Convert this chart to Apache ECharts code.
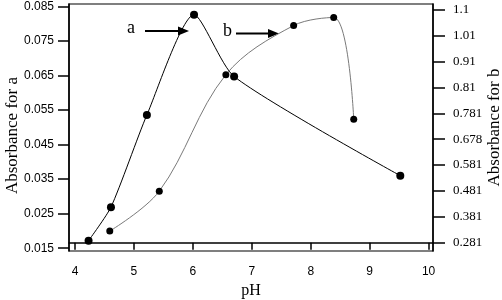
<!DOCTYPE html>
<html>
<head>
<meta charset="utf-8">
<script src="https://cdn.jsdelivr.net/npm/echarts@6/dist/echarts.min.js"></script>
<style>html,body{margin:0;padding:0;background:#fff;}#c{width:502px;height:300px;}</style>
</head>
<body>
<div id="c"></div>
<script>
// Data
const pH_a = [4.23, 4.61, 5.22, 6.02, 6.70, 9.52];
const abs_a = [0.0172, 0.0269, 0.0536, 0.0826, 0.0647, 0.0360];
const pH_b = [4.59, 5.43, 6.56, 7.71, 8.39, 8.73];
const abs_b = [0.326, 0.480, 0.859, 1.045, 1.073, 0.757];
const xTicks = [4, 5, 6, 7, 8, 9, 10];
const leftTicks = [0.015, 0.025, 0.035, 0.045, 0.055, 0.065, 0.075, 0.085];
const rightTicks = [0.281, 0.381, 0.481, 0.581, 0.678, 0.781, 0.81, 0.91, 1.01, 1.1];

// right axis labels are evenly spaced: map absorbance to tick-slot position
function slotOf(v) {
  for (let i = 0; i < rightTicks.length - 1; i++) {
    const a = rightTicks[i], b = rightTicks[i + 1];
    if (v <= b || i === rightTicks.length - 2) return i + (v - a) / (b - a);
  }
}
const rightSlots = rightTicks.map((_, i) => i);

const serif = 'Liberation Serif';
const sans = 'Liberation Sans';
const chart = echarts.init(document.getElementById('c'), null, {renderer: 'canvas'});
chart.setOption({
  animation: false,
  backgroundColor: '#fff',
  grid: {left: 69, right: 69, top: 4, bottom: 49, show: true, borderColor: '#000', borderWidth: 1.2,
    containLabel: false, outerBoundsMode: 'none'},
  xAxis: {
    type: 'value', min: 3.898, max: 10.075,
    name: 'pH', nameLocation: 'middle', nameGap: 32, nameMoveOverlap: false,
    nameTextStyle: {fontFamily: serif, fontSize: 16, color: '#000'},
    axisLine: {lineStyle: {color: '#000', width: 1.5}},
    axisTick: {customValues: xTicks, length: 7, lineStyle: {color: '#000', width: 1.5}},
    axisLabel: {customValues: xTicks, fontFamily: sans, fontSize: 12, color: '#000', margin: 15},
    splitLine: {show: false}
  },
  yAxis: [{
    type: 'value', min: 0.0142, max: 0.0857, position: 'left',
    name: 'Absorbance for a', nameLocation: 'middle', nameGap: 48, nameRotate: 90, nameMoveOverlap: false,
    nameTextStyle: {fontFamily: serif, fontSize: 17, color: '#000', padding: [0, 16, 0, 0]},
    axisLine: {show: true, lineStyle: {color: '#000', width: 1.5}},
    axisTick: {show: true, customValues: leftTicks, length: 11, lineStyle: {color: '#000', width: 1.5}},
    axisLabel: {customValues: leftTicks, fontFamily: sans, fontSize: 12, color: '#000', margin: 15,
      formatter: v => v.toFixed(3)},
    splitLine: {show: false}
  }, {
    type: 'value', min: -0.32, max: 9.22, position: 'right',
    name: 'Absorbance for b', nameLocation: 'middle', nameGap: 53, nameRotate: 90, nameMoveOverlap: false,
    nameTextStyle: {fontFamily: serif, fontSize: 17, color: '#000'},
    axisLine: {show: true, lineStyle: {color: '#000', width: 1.5}},
    axisTick: {show: true, customValues: rightSlots, length: 12, lineStyle: {color: '#000', width: 1.5}},
    axisLabel: {customValues: rightSlots, fontFamily: serif, fontSize: 13, color: '#000', margin: 20,
      formatter: v => String(rightTicks[Math.round(v)])},
    splitLine: {show: false}
  }],
  series: [{
    name: 'a', type: 'line', yAxisIndex: 0, smooth: 0.22,
    data: pH_a.map((x, i) => [x, abs_a[i]]),
    symbol: 'circle', symbolSize: 8,
    itemStyle: {color: '#000'},
    lineStyle: {color: '#000', width: 1}
  }, {
    name: 'b', type: 'line', yAxisIndex: 1, smooth: 0.35,
    data: pH_b.map((x, i) => [x, slotOf(abs_b[i])]),
    symbol: 'circle', symbolSize: 7,
    itemStyle: {color: '#000'},
    lineStyle: {color: '#7a7a7a', width: 1}
  }],
  graphic: [
    {type: 'text', left: 127, top: 19, style: {text: 'a', font: '18px "Liberation Serif"', fill: '#000'}},
    {type: 'line', shape: {x1: 145, y1: 31, x2: 180, y2: 31}, style: {stroke: '#000', lineWidth: 2}},
    {type: 'polygon', shape: {points: [[178, 26.5], [189, 31], [178, 35.5]]}, style: {fill: '#000'}},
    {type: 'text', left: 223, top: 22, style: {text: 'b', font: '18px "Liberation Serif"', fill: '#000'}},
    {type: 'line', shape: {x1: 236, y1: 33.5, x2: 270, y2: 33.5}, style: {stroke: '#000', lineWidth: 2}},
    {type: 'polygon', shape: {points: [[268, 29], [279, 33.5], [268, 38]]}, style: {fill: '#000'}}
  ]
});
</script>
</body>
</html>
